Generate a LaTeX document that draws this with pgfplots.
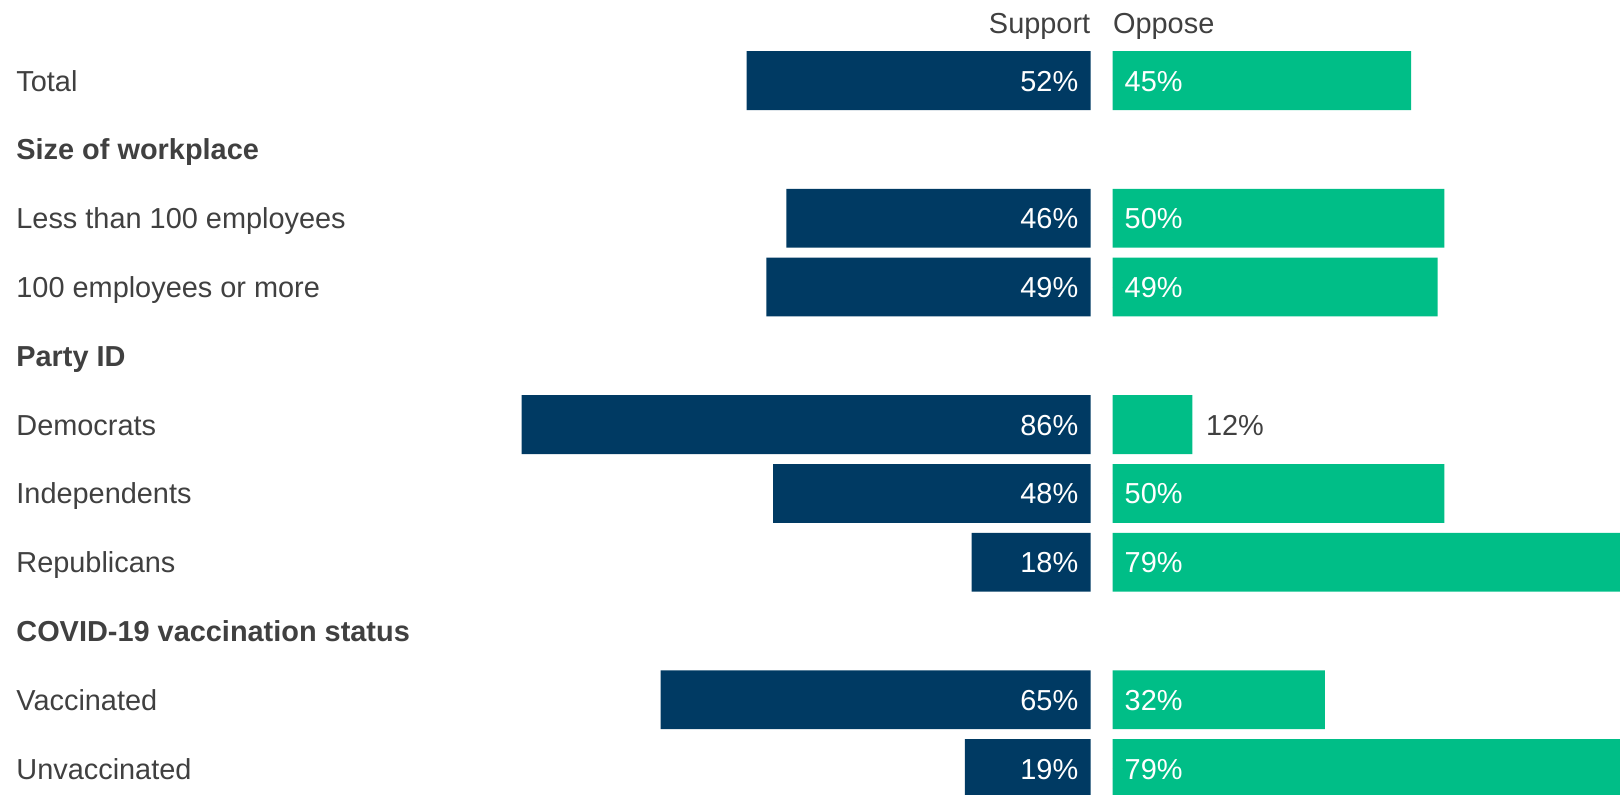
\documentclass[border=0pt]{standalone}
\usepackage{fontspec}
\setmainfont{Liberation Sans}
\usepackage{pgfplots}
\usepackage{pgfplotstable}
\pgfplotsset{compat=1.18}
\definecolor{navy}{HTML}{003A63}
\definecolor{oppgreen}{HTML}{00BE87}
\definecolor{txt}{HTML}{404040}
\newcommand{\lblfont}{\fontsize{14.45}{17}\selectfont}

\pgfplotstableread{
row s o
0 52 45
2 46 50
3 49 49
5 86 12
6 48 50
7 18 79
9 65 32
10 19 79
}\data

\begin{document}
\begin{tikzpicture}
\useasboundingbox (0,0) rectangle (810pt,-397pt);
% Support side
\begin{axis}[
  at={(0pt,0pt)}, anchor=north west,
  scale only axis, width=545.3pt, height=397pt,
  xmin=-164.87, xmax=0, ymin=-1.1715, ymax=10.369, y dir=reverse,
  axis line style={draw=none}, major tick length=0pt, xtick=\empty,
  ytick={0,...,10},
  yticklabels={Total,\textbf{Size of workplace},Less than 100 employees,100 employees or more,\textbf{Party ID},Democrats,Independents,Republicans,\textbf{COVID-19 vaccination status},Vaccinated,Unvaccinated},
  yticklabel style={anchor=base west, inner sep=0pt, xshift=8pt, yshift=-5.25pt, font=\lblfont, text=txt},
]
\addplot[xbar, bar shift=0pt, bar width=29.4pt, fill=navy, draw=none] table[x expr=-\thisrow{s}, y=row]{\data};
\addplot[only marks, mark=*, mark size=0pt, mark options={draw=none,fill=none},
  point meta=explicit symbolic, nodes near coords={\pgfplotspointmeta\%},
  every node near coord/.append style={anchor=base east, inner sep=0pt, xshift=-6pt, yshift=-5.25pt, text=white, font=\lblfont}]
  table[x expr=0, y=row, meta=s]{\data};
\node[anchor=base east, inner sep=0pt, text=txt, font=\lblfont] at (axis cs:0,-0.692) {Support};
\end{axis}
% Oppose side
\begin{axis}[
  at={(556.35pt,0pt)}, anchor=north west,
  scale only axis, width=253.65pt, height=397pt,
  xmin=0, xmax=76.49, ymin=-1.1715, ymax=10.369, y dir=reverse,
  axis line style={draw=none}, major tick length=0pt, xtick=\empty, ytick=\empty,
]
\addplot[xbar, bar shift=0pt, bar width=29.4pt, fill=oppgreen, draw=none] table[x=o, y=row]{\data};
\addplot[only marks, mark=*, mark size=0pt, mark options={draw=none,fill=none},
  skip coords between index={3}{4},
  point meta=explicit symbolic, nodes near coords={\pgfplotspointmeta\%},
  every node near coord/.append style={anchor=base west, inner sep=0pt, xshift=5.8pt, yshift=-5.25pt, text=white, font=\lblfont}]
  table[x expr=0, y=row, meta=o]{\data};
\addplot[only marks, mark=*, mark size=0pt, mark options={draw=none,fill=none},
  skip coords between index={0}{3}, skip coords between index={4}{8},
  point meta=explicit symbolic, nodes near coords={\pgfplotspointmeta\%},
  every node near coord/.append style={anchor=base west, inner sep=0pt, xshift=6.7pt, yshift=-5.25pt, text=txt, font=\lblfont}]
  table[x=o, y=row, meta=o]{\data};
\node[anchor=base west, inner sep=0pt, text=txt, font=\lblfont] at (axis cs:0,-0.692) {Oppose};
\end{axis}
\end{tikzpicture}
\end{document}
